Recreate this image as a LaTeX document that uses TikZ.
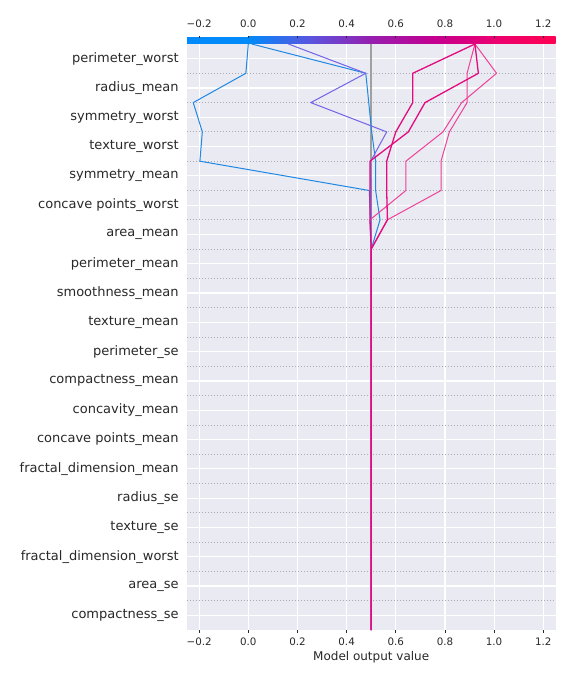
\documentclass[tikz,border=0pt]{standalone}
\usepackage{fontspec}
\setmainfont{DejaVu Sans}
\definecolor{panel}{RGB}{234,234,242}
\definecolor{txtgray}{RGB}{40,40,40}
\definecolor{basegray}{RGB}{160,160,160}
\definecolor{dotgray}{RGB}{170,170,180}
\definecolor{cbA}{RGB}{0,138,250}
\definecolor{cbB}{RGB}{90,85,222}
\definecolor{cbC}{RGB}{150,30,175}
\definecolor{cbD}{RGB}{195,0,145}
\definecolor{cbE}{RGB}{235,0,112}
\definecolor{cbF}{RGB}{255,0,82}
\definecolor{lnblue}{RGB}{30,136,229}
\definecolor{lnviolet}{RGB}{112,100,232}
\definecolor{lnpink}{RGB}{226,12,128}
\definecolor{lnrose}{RGB}{238,66,152}

\begin{document}
\begin{tikzpicture}[x=1pt,y=-1pt,
	lbl/.style={text=txtgray,font=\fontsize{13}{15}\selectfont,inner sep=0pt},
	ticklbl/.style={text=txtgray,font=\fontsize{10.3}{12}\selectfont,inner sep=0pt},
	decision/.style={line width=1pt,line join=round}]
	\useasboundingbox (0,0) rectangle (576,684);
	\fill[panel] (187,44) rectangle (556,630);
	\begin{scope}[shift={(248.3,44)},x=245.8pt,y=-29.3pt]
	\foreach \v in {-0.2,0,0.2,0.4,0.6,0.8,1,1.2}
		\draw[white,line width=1.2pt] (\v,0) -- (\v,20);
	\foreach \k in {0,...,19}
		\draw[white,line width=1.2pt] (-0.25,\k+0.5) -- (1.25,\k+0.5);
	\foreach \k in {1,...,19}
		\draw[dotgray,line width=0.8pt,dash pattern=on 0.8pt off 2.2pt] (-0.25,\k) -- (1.25,\k);
	\fill[cbA] (-0.25,-0.24) rectangle (0.002,-0.01);
	\shade[left color=cbA,right color=cbB] (0,-0.24) rectangle (0.252,-0.01);
	\shade[left color=cbB,right color=cbC] (0.25,-0.24) rectangle (0.502,-0.01);
	\shade[left color=cbC,right color=cbD] (0.5,-0.24) rectangle (0.752,-0.01);
	\shade[left color=cbD,right color=cbE] (0.75,-0.24) rectangle (1.002,-0.01);
	\shade[left color=cbE,right color=cbF] (1,-0.24) rectangle (1.25,-0.01);
	\foreach \v/\t [count=\i] in {-0.2/−0.2,0/0.0,0.2/0.2,0.4/0.4,0.6/0.6,0.8/0.8,1/1.0,1.2/1.2}{
		\draw[txtgray,line width=0.8pt] (\v,-0.27) -- (\v,-0.2);
		\draw[txtgray,line width=0.8pt] (\v,20) -- (\v,20.1);
		\node[ticklbl] (tt\i) at ([yshift=20pt]\v,0) {\t};
		\node[ticklbl] (bt\i) at ([yshift=-11.7pt]\v,20) {\t};
	}
	\node[text=txtgray,font=\fontsize{12}{14}\selectfont] (xlabel) at ([yshift=-26.7pt]0.5,20) {Model output value};
	\foreach \name [count=\i] in {perimeter\_worst,radius\_mean,symmetry\_worst,texture\_worst,symmetry\_mean,concave points\_worst,area\_mean,perimeter\_mean,smoothness\_mean,texture\_mean,perimeter\_se,compactness\_mean,concavity\_mean,concave points\_mean,fractal\_dimension\_mean,radius\_se,texture\_se,fractal\_dimension\_worst,area\_se,compactness\_se}
		\node[lbl,anchor=east] (f\i) at ([xshift=-8pt]-0.25,\i-0.5) {\name};
	\draw[basegray,line width=2pt] (0.5,0) -- (0.5,20);
	\draw[decision,lnblue] plot coordinates {(0.014,0) (0.478,1) (0.49,2) (0.502,3) (0.518,4) (0.518,5) (0.536,6) (0.5,7) (0.5,20)};
	\draw[decision,lnblue] plot coordinates {(0,0) (-0.01,1) (-0.224,2) (-0.187,3) (-0.197,4) (0.492,5) (0.497,6) (0.5,7) (0.5,20)};
	\draw[decision,lnviolet] plot coordinates {(0.163,0) (0.478,1) (0.254,2) (0.563,3) (0.498,4) (0.5,5) (0.5,7) (0.5,20)};
	\draw[decision,lnrose] plot coordinates {(0.922,0) (1.01,1) (0.868,2) (0.792,3) (0.641,4) (0.641,5) (0.495,6) (0.5,7) (0.5,20)};
	\draw[decision,lnrose] plot coordinates {(0.922,0) (0.89,1) (0.89,2) (0.818,3) (0.784,4) (0.784,5) (0.566,6) (0.5,7) (0.5,20)};
	\draw[decision,lnpink,line width=1.3pt] plot coordinates {(0.922,0) (0.669,1) (0.669,2) (0.6,3) (0.563,4) (0.563,5) (0.566,6) (0.5,7) (0.5,20)};
	\draw[decision,lnpink,line width=1.3pt] plot coordinates {(0.922,0) (0.936,1) (0.719,2) (0.651,3) (0.495,4) (0.495,5) (0.495,6) (0.5,7) (0.5,20)};
	\end{scope}
\end{tikzpicture}
\end{document}
